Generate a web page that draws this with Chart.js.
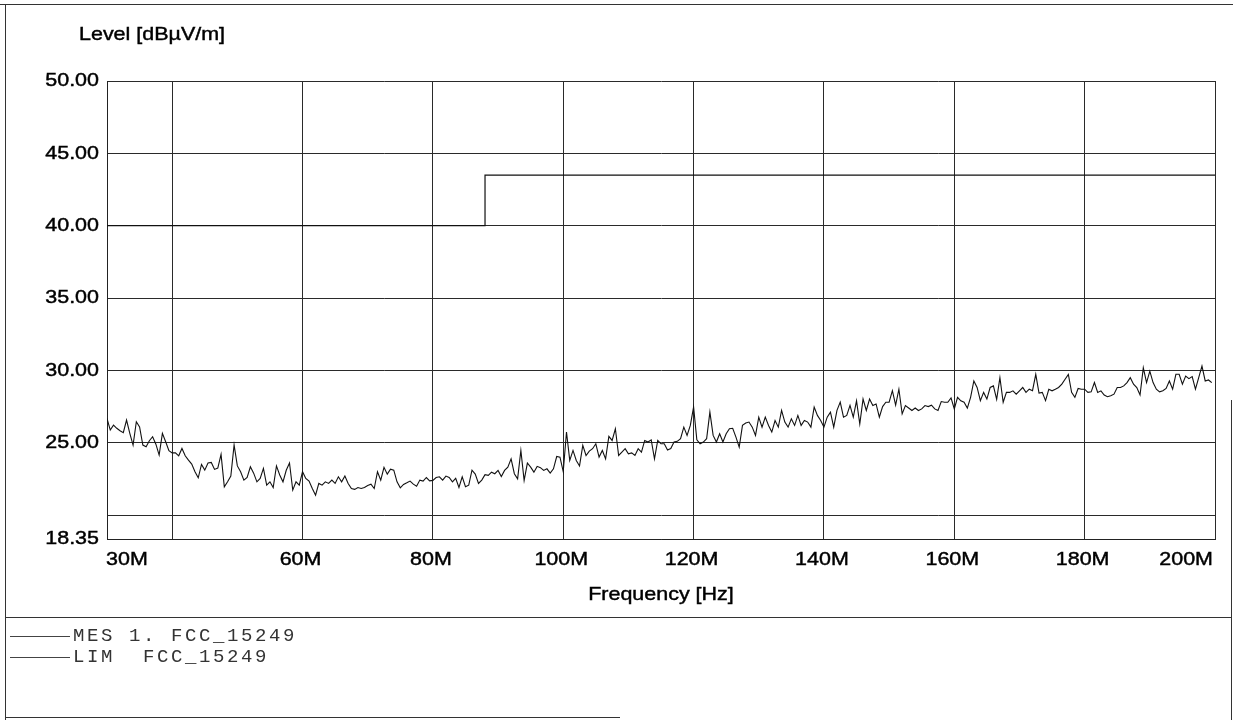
<!DOCTYPE html>
<html>
<head>
<meta charset="utf-8">
<title>Level vs Frequency</title>
<script src="https://cdn.jsdelivr.net/npm/chart.js@4.4.1/dist/chart.umd.min.js"></script>
<style>
    html, body { margin: 0; padding: 0; background: #fff; }
    #wrap { position: relative; width: 1233px; height: 720px; overflow: hidden; }
    #wrap canvas { position: absolute; left: 0; top: 0; }
    .rule { position: absolute; background: #333; }
    .swatch { position: absolute; left: 10px; width: 60px; height: 1px; background: #444; }
    .legend {
        position: absolute; left: 73px;
        font-family: "Liberation Mono", "DejaVu Sans Mono", monospace;
        font-size: 19px; letter-spacing: 2.6px; color: #333;
        white-space: pre; line-height: 20px;
    }
</style>
</head>
<body>
<div id="wrap">
    <canvas id="chart" width="1233" height="720"></canvas>
    <!-- page frame -->
    <div class="rule" style="left:0; top:4px; width:1233px; height:1px;"></div>
    <div class="rule" style="left:5px; top:4px; width:1px; height:716px;"></div>
    <div class="rule" style="left:5px; top:617px; width:1227px; height:1px;"></div>
    <div class="rule" style="left:1231px; top:400px; width:1px; height:320px;"></div>
    <div class="rule" style="left:5px; top:717px; width:615px; height:1px;"></div>
    <!-- legend -->
    <div class="swatch" style="top:636px;"></div>
    <div class="legend" style="top:626px;">MES 1. FCC_15249</div>
    <div class="swatch" style="top:657px;"></div>
    <div class="legend" style="top:647px;">LIM  FCC_15249</div>
</div>
<script>
// Measurement sweep: 30 MHz upward in 0.5 MHz steps (values in dBµV/m)
const mesStartMHz = 30;
const mesStepMHz = 0.5;
const mesLevels = [
    26.68, 25.88, 26.22, 26.0, 25.83, 25.7, 26.57, 25.65, 24.84, 26.45,
    26.1, 24.84, 24.72, 25.14, 25.42, 24.9, 24.15, 25.65, 25.07, 24.45,
    24.3, 24.3, 24.1, 24.61, 24.1, 23.8, 23.53, 23.0, 22.58, 23.5,
    23.11, 23.6, 23.64, 23.16, 23.25, 24.2, 21.95, 22.3, 22.7, 24.85,
    23.4, 23.0, 22.42, 22.6, 23.34, 22.9, 22.3, 22.54, 23.23, 22.07,
    22.3, 21.9, 23.4, 22.77, 22.3, 23.1, 23.6, 21.73, 22.3, 22.07,
    23.0, 22.54, 22.35, 21.84, 21.38, 22.19, 22.07, 22.3, 22.19, 22.42,
    22.19, 22.65, 22.3, 22.7, 22.19, 21.84, 21.78, 21.91, 21.84, 21.91,
    22.05, 22.14, 21.84, 23.0, 22.42, 23.3, 22.83, 23.18, 23.11, 22.3,
    21.89, 22.12, 22.23, 22.35, 22.14, 22.0, 22.42, 22.35, 22.6, 22.37,
    22.4, 22.6, 22.65, 22.42, 22.7, 22.6, 22.3, 22.54, 21.91, 22.65,
    21.96, 22.07, 23.11, 22.84, 22.19, 22.42,
    // 88 MHz
    22.8, 22.75, 22.97, 22.86, 23.09, 22.67, 23.09, 23.32, 23.89, 22.86,
    22.51, 24.47, 22.4, 23.6, 23.32, 22.97, 23.37, 23.28, 23.09, 23.2,
    22.9, 23.2, 24.05, 24.0,
    // 100 MHz
    23.0, 25.74, 23.78, 24.47, 23.78, 23.4, 24.82, 24.12, 24.42, 24.59,
    24.93, 24.01, 24.47, 23.89, 25.44, 25.16, 25.97, 24.12, 24.35, 24.59,
    24.24, 24.3, 24.12, 24.59, 24.35, 25.16, 25.05, 25.2, 23.89, 25.16,
    24.93, 24.93, 24.5, 24.6, 25.05, 25.1, 25.28, 26.08, 25.51, 26.2,
    // 120 MHz
    27.47, 25.2, 24.93, 25.05, 25.28, 27.12, 25.51, 25.05, 25.62, 25.05,
    25.62, 25.97, 26.0, 25.39, 24.7, 26.2, 26.36, 26.43, 26.08, 25.51,
    26.77, 26.08, 26.77, 26.2, 25.74, 26.54, 26.08, 27.24, 26.43, 26.08,
    26.66, 26.2, 26.89, 26.2, 26.54, 26.43, 26.08, 27.47, 26.89, 26.54,
    // 140 MHz
    26.08, 26.77, 27.12, 26.08, 27.24, 27.81, 26.77, 26.89, 27.58, 26.77,
    27.9, 26.3, 28.02, 27.23, 28.02, 27.57, 27.68, 26.77, 27.5, 27.8,
    27.8, 28.6, 27.6, 28.7, 27.0, 27.57, 27.4, 27.23, 27.4, 27.23,
    27.34, 27.57, 27.5, 27.6, 27.34, 27.23, 27.85, 27.8, 27.8, 28.1,
    // 160 MHz
    27.34, 28.14, 27.9, 27.8, 27.4, 28.14, 29.27, 28.82, 27.91, 28.48,
    28.02, 28.82, 28.93, 28.0, 29.5, 27.8, 28.48, 28.48, 28.59, 28.36,
    28.59, 28.82, 28.48, 28.7, 28.6, 29.73, 28.43, 28.48, 27.91, 28.7,
    28.59, 28.7, 28.82, 29.05, 29.39, 29.73, 28.48, 28.14, 28.75, 28.7,
    // 180 MHz
    28.7, 28.48, 28.52, 29.16, 28.48, 28.59, 28.3, 28.18, 28.25, 28.36,
    28.82, 28.82, 28.93, 29.16, 29.5, 29.05, 28.82, 28.3, 30.18, 29.16,
    29.95, 29.16, 28.7, 28.52, 28.59, 28.75, 29.27, 28.7, 29.73, 29.73,
    29.05, 29.61, 29.43, 29.57, 28.7, 29.5, 30.3, 29.27, 29.34, 29.16
];

// FCC 15.249 limit line (MHz, dBµV/m)
const limitFreqs = [30, 88, 88, 200];
const limitLevels = [40, 40, 43.5, 43.5];

// Axes
const xMin = 30, xMax = 200;
const xTicks = [30, 40, 60, 80, 100, 120, 140, 160, 180, 200];
const xTickLabels = ['30M', '', '60M', '80M', '100M', '120M', '140M', '160M', '180M', '200M'];
const yMin = 18.35, yMax = 50;
const yTicks = [18.35, 20, 25, 30, 35, 40, 45, 50];
const yTickLabels = ['18.35', '', '25.00', '30.00', '35.00', '40.00', '45.00', '50.00'];

const yTitle = 'Level [dBµV/m]';
const xTitle = 'Frequency [Hz]';

const TEXT_FONT = '19px "Liberation Sans", Arial, sans-serif';
const STRETCH = 1.13;   // the plotter's font runs a little wide

/**
 * Draw text slightly widened and inked, like the original plot font
 */
function drawWide(ctx, text, px, py, align) {
    if (!text) return;
    ctx.save();
    ctx.font = TEXT_FONT;
    const w = ctx.measureText(text).width * STRETCH;
    let left = px;
    if (align === 'right') left = px - w;
    else if (align === 'center') left = px - w / 2;
    ctx.translate(left, py);
    ctx.scale(STRETCH, 1);
    ctx.textAlign = 'left';
    ctx.textBaseline = 'middle';
    ctx.fillStyle = '#000';
    ctx.strokeStyle = '#000';
    ctx.lineWidth = 0.45;
    ctx.fillText(text, 0, 0);
    ctx.strokeText(text, 0, 0);
    ctx.restore();
}

const axisText = {
    id: 'axisText',
    afterDraw(chart) {
        const { ctx, chartArea, scales } = chart;
        yTicks.forEach((v, i) => {
            drawWide(ctx, yTickLabels[i], chartArea.left - 8, scales.y.getPixelForValue(v), 'right');
        });
        xTicks.forEach((v, i) => {
            const last = xTicks.length - 1;
            const align = i === 0 ? 'left' : (i === last ? 'right' : 'center');
            const px = scales.x.getPixelForValue(v) + (i === 0 ? -1 : -2);
            drawWide(ctx, xTickLabels[i], px, chartArea.bottom + 21, align);
        });
        drawWide(ctx, xTitle, (chartArea.left + chartArea.right) / 2, chartArea.bottom + 56, 'center');
        drawWide(ctx, yTitle, 79, 35, 'left');
    }
};

function initializeChart() {
    const ctx = document.getElementById('chart');

    const mesPoints = mesLevels.map((v, i) => ({ x: mesStartMHz + i * mesStepMHz, y: v }));
    const limPoints = limitFreqs.map((f, i) => ({ x: f, y: limitLevels[i] }));

    new Chart(ctx, {
        type: 'line',
        data: {
            datasets: [
                {
                    label: 'MES 1. FCC_15249',
                    data: mesPoints,
                    borderColor: '#111',
                    borderWidth: 1.1,
                    pointRadius: 0,
                    tension: 0
                },
                {
                    label: 'LIM FCC_15249',
                    data: limPoints,
                    borderColor: '#111',
                    borderWidth: 1.2,
                    pointRadius: 0,
                    tension: 0
                }
            ]
        },
        options: {
            responsive: false,
            animation: false,
            events: [],
            layout: { padding: { left: 0, right: 18, top: 81, bottom: 161 } },
            plugins: { legend: { display: false }, tooltip: { enabled: false } },
            scales: {
                x: {
                    type: 'linear',
                    min: xMin,
                    max: xMax,
                    afterBuildTicks: s => { s.ticks = xTicks.map(v => ({ value: v })); },
                    afterFit: s => { s.height = 20; },
                    ticks: { display: false },
                    grid: { color: '#2a2a2a', lineWidth: 1, drawTicks: false },
                    border: { display: true, color: '#222', width: 1 }
                },
                y: {
                    type: 'linear',
                    min: yMin,
                    max: yMax,
                    afterBuildTicks: s => { s.ticks = yTicks.map(v => ({ value: v })); },
                    afterFit: s => { s.width = 107; },
                    ticks: { display: false },
                    grid: { color: '#2a2a2a', lineWidth: 1, drawTicks: false },
                    border: { display: true, color: '#222', width: 1 }
                }
            }
        },
        plugins: [axisText]
    });
}

if (document.readyState === 'loading') {
    document.addEventListener('DOMContentLoaded', initializeChart);
} else {
    initializeChart();
}
</script>
</body>
</html>
